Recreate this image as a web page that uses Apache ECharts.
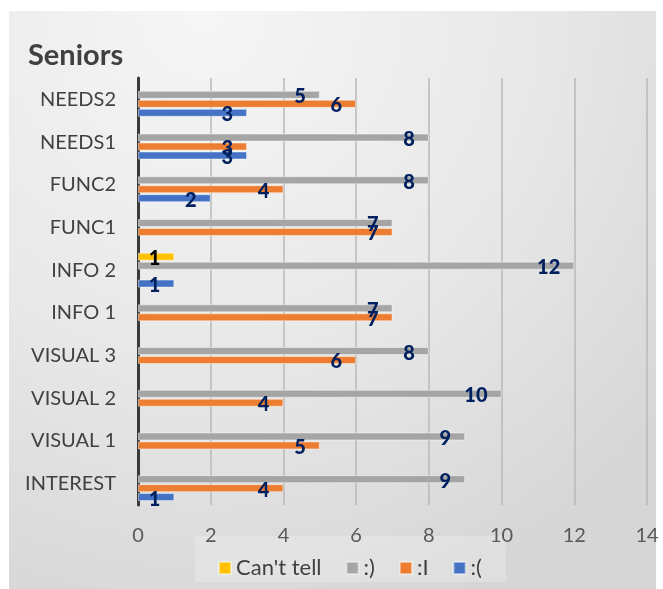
<!DOCTYPE html>
<html>
<head>
<meta charset="utf-8">
<script src="https://cdn.jsdelivr.net/npm/echarts@6/dist/echarts.min.js"></script>
<style>
  html, body { margin: 0; padding: 0; background: #fff; }
  #frame {
    position: absolute; left: 9px; top: 11px; width: 647px; height: 578px;
    background: radial-gradient(ellipse 95% 110% at 30% 0%, #f6f6f6 0%, #e8e8e8 55%, #d6d6d6 100%);
  }
  #main { position: absolute; left: 0; top: 0; width: 663px; height: 589px; }
</style>
</head>
<body>
<div id="frame"></div>
<div id="main"></div>
<script>
// categories bottom -> top
var categories = ["INTEREST", "VISUAL 1", "VISUAL 2", "VISUAL 3", "INFO 1", "INFO 2", "FUNC1", "FUNC2", "NEEDS1", "NEEDS2"];
var cantTell = [null, null, null, null, null, 1, null, null, null, null];
var happy    = [9, 9, 10, 8, 7, 12, 7, 8, 8, 5];
var neutral  = [4, 5, 4, 6, 7, null, 7, 4, 3, 6];
var sad      = [1, null, null, null, null, 1, null, 2, 3, 3];
var xTicks = { min: 0, max: 14, interval: 2 };

var font = "Lato";
var chart = echarts.init(document.getElementById("main"));

function lbl(color) {
  return {
    show: true,
    position: "insideRight",
    distance: 14,
    offset: [0, 2],
    color: color,
    fontFamily: font,
    fontWeight: 900,
    fontSize: 20
  };
}

function bar(name, data, color, labelColor) {
  return {
    name: name,
    type: "bar",
    data: data,
    barWidth: 8,
    barGap: "12%",
    itemStyle: { color: color, borderColor: "rgba(255,255,255,0.45)", borderWidth: 1 },
    label: lbl(labelColor)
  };
}

chart.setOption({
  animation: false,
  textStyle: { fontFamily: font },
  title: {
    text: "Seniors",
    left: 23,
    top: 36,
    textStyle: { fontFamily: font, fontSize: 29, fontWeight: "bold", color: "#404040" }
  },
  graphic: [{
    type: "rect",
    shape: { x: 195, y: 536, width: 311, height: 46 },
    style: { fill: "rgba(255,255,255,0.22)" },
    silent: true,
    z: 0
  }],
  legend: {
    data: ["Can't tell", ":)", ":I", ":("],
    left: 213,
    top: 552,
    itemWidth: 12,
    itemHeight: 12,
    itemGap: 24,
    icon: "rect",
    textStyle: { fontFamily: font, fontSize: 22, color: "#404040" }
  },
  grid: { left: 138, right: 16, top: 78, bottom: 84 },
  xAxis: {
    type: "value",
    min: xTicks.min,
    max: xTicks.max,
    interval: xTicks.interval,
    axisLine: { show: false },
    axisTick: { show: false },
    splitLine: { show: true, lineStyle: { color: "#b8b8b8", width: 1.5 } },
    axisLabel: { color: "#595959", fontSize: 20, fontFamily: font, margin: 21 }
  },
  yAxis: {
    type: "category",
    data: categories,
    axisLine: { show: true, lineStyle: { color: "#3a3a3a", width: 3 } },
    axisTick: { show: false },
    axisLabel: { color: "#404040", fontSize: 20, fontFamily: font, margin: 22 }
  },
  series: [
    bar("Can't tell", cantTell, "#ffc000", "#000000"),
    bar(":)", happy, "#a5a5a5", "#002060"),
    bar(":I", neutral, "#ed7d31", "#002060"),
    bar(":(", sad, "#4472c4", "#002060")
  ]
});
</script>
</body>
</html>
